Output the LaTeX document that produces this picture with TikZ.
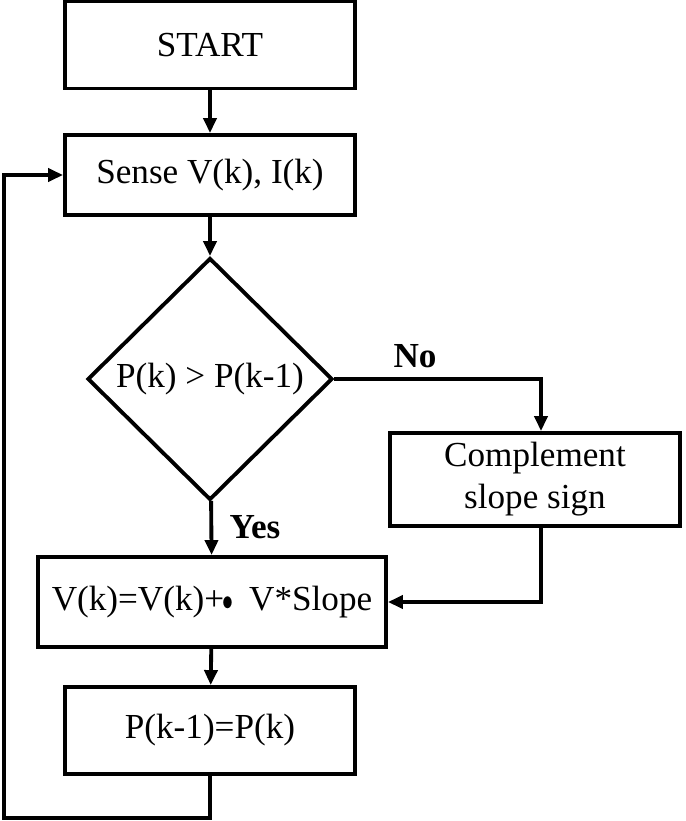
\documentclass[tikz,border=0pt]{standalone}
\usepackage{fontspec}
\setmainfont{Liberation Serif}
\usetikzlibrary{shapes.geometric,arrows.meta}
\tikzset{
  box/.style={draw,line width=2.2pt,minimum width=5.8cm,minimum height=1.74cm,inner sep=0pt,align=center,
    font=\fontsize{20}{24}\selectfont},
  cond/.style={draw,diamond,line width=2.2pt,minimum width=4.9cm,minimum height=4.84cm,inner sep=0pt,
    font=\fontsize{20}{24}\selectfont},
  flow/.style={line width=2.2pt,-{Triangle[length=0.3cm,width=0.26cm]}},
  lbl/.style={font=\fontsize{20}{24}\selectfont\bfseries}
}
\begin{document}
\begin{tikzpicture}
\useasboundingbox (0,0) rectangle (13.7,-16.42);
\node[box] (start) at (4.2,-0.9) {START};
\node[box,minimum height=1.6cm] (sense) at (4.2,-3.5) {Sense V(k), I(k)};
\node[cond] (dec) at (4.2,-7.58) {P(k) > P(k-1)};
\node[box,minimum height=1.86cm] (comp) at (10.7,-9.59) {Complement\\slope sign};
\node[box,minimum width=6.96cm,minimum height=1.8cm] (upd) at (4.24,-12.04)
  {V(k)=V(k)+\kern-0.05em\scalebox{0.6}[0.85]{$\bullet$}\hspace{0.45em}V*Slope};
\node[box] (save) at (4.2,-14.61) {P(k-1)=P(k)};
\node[lbl] (no) at (8.3,-7.12) {No};
\node[lbl] (yes) at (5.1,-10.54) {Yes};
\coordinate (nocorner) at (10.82,-7.58);
\coordinate (compout) at (10.82,-12.04);
\coordinate (loopa) at (4.2,-16.36);
\coordinate (loopb) at (0.08,-16.36);
\coordinate (loopc) at (0.08,-3.5);
\draw[flow] (start) -- (sense);
\draw[flow] (sense) -- (dec);
\draw[flow] (dec.east) -- (nocorner) -- (comp.north -| nocorner);
\draw[flow] (dec) -- (upd);
\draw[flow] (comp.south -| compout) -- (compout) -- (upd.east);
\draw[flow] (upd) -- (save);
\draw[flow] (save) -- (loopa) -- (loopb) -- (loopc) -- (sense.west);
\end{tikzpicture}
\end{document}
